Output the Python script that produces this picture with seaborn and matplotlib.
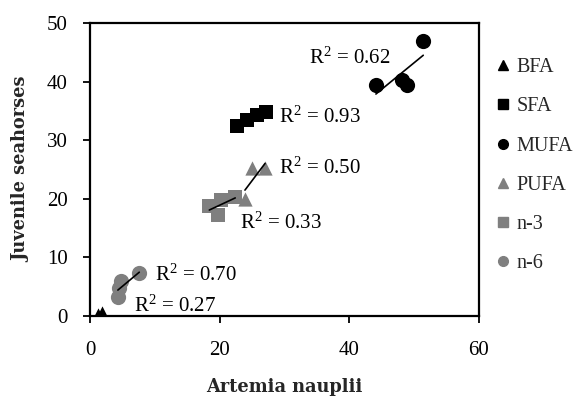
import matplotlib
matplotlib.use("Agg")
import matplotlib.pyplot as plt
import seaborn as sns
import pandas as pd
from matplotlib.lines import Line2D

# Fatty-acid groups: Artemia nauplii (x) vs juvenile seahorses (y)
bfa_x = [1.2, 1.9]
bfa_y = [0.2, 0.5]
sfa_x = [22.6, 24.2, 25.7, 27.2]
sfa_y = [32.4, 33.4, 34.3, 34.8]
mufa_x = [44.1, 48.1, 48.9, 51.4]
mufa_y = [39.4, 40.2, 39.5, 47.0]
pufa_x = [23.9, 24.95, 27.0]
pufa_y = [20.05, 25.2, 25.3]
n3_x = [18.4, 19.7, 20.2, 22.4]
n3_y = [18.7, 17.2, 19.8, 20.3]
n6_x = [4.3, 4.4, 4.8, 7.6]
n6_y = [3.3, 4.7, 6.0, 7.3]

groups = ["BFA", "SFA", "MUFA", "PUFA", "n-3", "n-6"]
r2_values = ["0.27", "0.93", "0.62", "0.50", "0.33", "0.70"]
r2_pos = [(6.8, 1.6), (29.2, 33.9), (33.8, 44.0), (29.2, 25.2), (23.1, 15.8), (10.0, 7.0)]

xs = [bfa_x, sfa_x, mufa_x, pufa_x, n3_x, n6_x]
ys = [bfa_y, sfa_y, mufa_y, pufa_y, n3_y, n6_y]

BLACK = "#000000"
GREY = "#7f7f7f"
colors = [BLACK, BLACK, BLACK, GREY, GREY, GREY]
markers = ["^", "s", "o", "^", "s", "o"]
sizes = [105, 95, 120, 105, 95, 120]

df = pd.concat(
    [pd.DataFrame({"group": g, "x": x, "y": y}) for g, x, y in zip(groups, xs, ys)],
    ignore_index=True,
)

sns.set_theme(style="ticks")
plt.rcParams["font.family"] = ["Liberation Serif", "DejaVu Serif"]
plt.rcParams["mathtext.fontset"] = "custom"
plt.rcParams["mathtext.rm"] = "Liberation Serif"
plt.rcParams["mathtext.it"] = "Liberation Serif"

fig = plt.figure(figsize=(5.74, 3.99), dpi=100)
ax = fig.add_axes([90 / 574, 1 - 316 / 399, (479 - 90) / 574, (316 - 23) / 399])

for g, c, m, s in zip(groups, colors, markers, sizes):
    sub = df[df["group"] == g]
    sns.scatterplot(data=sub, x="x", y="y", marker=m, color=c, s=s,
                    linewidth=0, ax=ax, legend=False, zorder=2)
for g in groups:
    sub = df[df["group"] == g]
    sns.regplot(data=sub, x="x", y="y", scatter=False, ci=None, truncate=True,
                ax=ax, line_kws={"color": "black", "lw": 1.2, "zorder": 3})

for val, (tx, ty) in zip(r2_values, r2_pos):
    ax.text(tx, ty, r"R$^{\mathrm{2}}$ = " + val, ha="left", va="center",
            fontsize=15, color="black")

ax.set_xlim(0, 60)
ax.set_ylim(0, 50)
ax.set_xticks([0, 20, 40, 60])
ax.set_yticks([0, 10, 20, 30, 40, 50])
ax.tick_params(axis="both", direction="out", length=5, width=1.3, colors="black",
               labelsize=15)
ax.tick_params(axis="y", pad=11)
ax.tick_params(axis="x", pad=13)
for sp in ax.spines.values():
    sp.set_visible(True)
    sp.set_color("black")
    sp.set_linewidth(1.6)

label_font = {"family": "DejaVu Serif", "size": 12.8, "weight": "bold"}
ax.set_xlabel("Artemia nauplii", fontdict=label_font, labelpad=13)
ax.set_ylabel("Juvenile seahorses", fontdict=label_font, labelpad=12)

handles = [Line2D([], [], linestyle="none", marker=m, color=c, markersize=7)
           for m, c in zip(markers, colors)]
fig.legend(handles, groups, loc="upper left", bbox_to_anchor=(497 / 574, 1 - 58 / 399),
           frameon=False, fontsize=14.5, labelspacing=1.0, handlelength=0.6,
           handletextpad=0.35, borderaxespad=0, borderpad=0)

fig.savefig("out.png", dpi=100)
